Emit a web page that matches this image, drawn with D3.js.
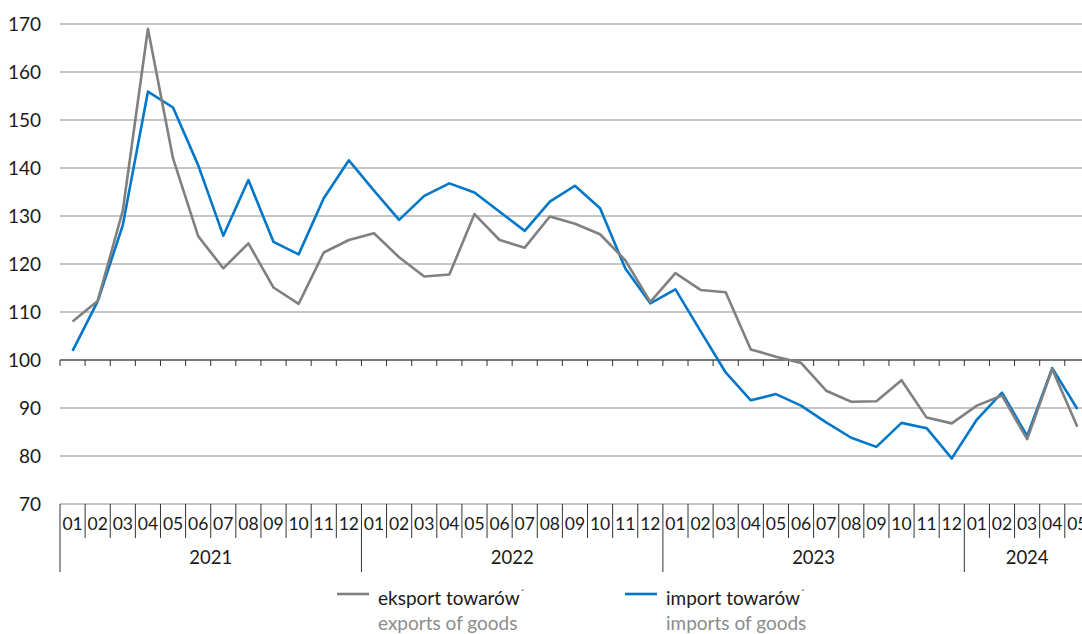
<!DOCTYPE html>
<html>
<head>
<meta charset="utf-8">
<script src="https://cdn.jsdelivr.net/npm/d3@7"></script>
<style>
  body { margin: 0; background: #fff; }
  svg { display: block; font-family: Lato, "Liberation Sans", sans-serif; }
</style>
</head>
<body>
<svg id="chart" width="1082" height="634"></svg>
<script>
// month labels and years (41 months, 2021-01 .. 2024-05)
var monthLabels = ["01","02","03","04","05","06","07","08","09","10","11","12"];
var years = ["2021", "2022", "2023", "2024"];
var monthsPerYear = [12, 12, 12, 5];
var yTicks = [70, 80, 90, 100, 110, 120, 130, 140, 150, 160, 170];

// eksport towarów / exports of goods
var exportsGoods = [
  108.0, 112.3, 131.1, 169.0, 142.0, 125.8, 119.1, 124.3, 115.1, 111.7, 122.4, 125.0,
  126.4, 121.4, 117.4, 117.8, 130.4, 125.0, 123.4, 129.9, 128.4, 126.2, 120.8, 112.1,
  118.1, 114.6, 114.1, 102.2, 100.7, 99.4, 93.6, 91.3, 91.4, 95.8, 88.0, 86.8,
  90.5, 92.6, 83.5, 98.1, 86.1
];

// import towarów / imports of goods
var importsGoods = [
  101.9, 112.2, 128.1, 155.9, 152.6, 140.6, 125.9, 137.5, 124.6, 122.0, 133.7, 141.6,
  135.3, 129.2, 134.2, 136.8, 134.9, 130.9, 126.9, 133.0, 136.3, 131.6, 119.1, 111.8,
  114.7, 106.0, 97.4, 91.6, 92.9, 90.5, 87.0, 83.8, 81.9, 86.9, 85.8, 79.5,
  87.6, 93.2, 84.2, 98.3, 89.8
];

var svg = d3.select("#chart");
var left = 60, step = 25.12;
var n = exportsGoods.length;

// build month list
var months = [];
years.forEach((y, yi) => {
  for (let m = 0; m < monthsPerYear[yi]; m++) months.push({ year: y, label: monthLabels[m] });
});

var x = d3.scaleBand()
  .domain(d3.range(n))
  .range([left, left + n * step])
  .padding(0);

var y = d3.scaleLinear()
  .domain([70, 170])
  .range([504, 24]);

var grey = "#808080", blue = "#0077c8";

// gridlines
svg.append("g")
  .selectAll("line")
  .data(yTicks.filter(d => d !== 100))
  .enter()
  .append("line")
  .attr("x1", left)
  .attr("x2", 1082)
  .attr("y1", d => y(d))
  .attr("y2", d => y(d))
  .attr("stroke", "#b3b3b3")
  .attr("stroke-width", 1.5);

// y labels
svg.append("g")
  .selectAll("text")
  .data(yTicks)
  .enter()
  .append("text")
  .attr("x", 41)
  .attr("y", d => y(d))
  .attr("dy", "0.36em")
  .attr("text-anchor", "end")
  .attr("font-size", 19)
  .attr("fill", "#1a1a1a")
  .text(d => d);

// axis at 100 with month ticks
var axis100 = svg.append("g");
axis100.append("line")
  .attr("x1", left).attr("x2", 1082)
  .attr("y1", y(100)).attr("y2", y(100))
  .attr("stroke", "#4d4d4d")
  .attr("stroke-width", 1.3);
axis100.selectAll("line.tick")
  .data(d3.range(n))
  .enter()
  .append("line")
  .attr("class", "tick")
  .attr("x1", d => x(d)).attr("x2", d => x(d))
  .attr("y1", y(100)).attr("y2", y(100) + 6)
  .attr("stroke", "#333")
  .attr("stroke-width", 1);

// bottom category axis
var bottom = svg.append("g");
bottom.selectAll("line.month")
  .data(d3.range(n))
  .enter()
  .append("line")
  .attr("x1", d => x(d)).attr("x2", d => x(d))
  .attr("y1", y(70))
  .attr("y2", (d, i) => months[i].label === "01" ? 572 : 538)
  .attr("stroke", "#333")
  .attr("stroke-width", 1);

bottom.selectAll("text.month")
  .data(months)
  .enter()
  .append("text")
  .attr("x", (d, i) => x(i) + x.bandwidth() / 2)
  .attr("y", 530)
  .attr("text-anchor", "middle")
  .attr("font-size", 17.5)
  .attr("fill", "#1a1a1a")
  .text(d => d.label);

var start = 0;
years.forEach((yr, yi) => {
  let cnt = monthsPerYear[yi];
  bottom.append("text")
    .attr("x", (x(start) + x(start + cnt - 1) + x.bandwidth()) / 2)
    .attr("y", 564)
    .attr("text-anchor", "middle")
    .attr("font-size", 18.5)
    .attr("fill", "#1a1a1a")
    .text(yr);
  start += cnt;
});

// lines
var line = d3.line()
  .x((d, i) => x(i) + x.bandwidth() / 2)
  .y(d => y(d));

svg.append("path")
  .datum(importsGoods)
  .attr("d", line)
  .attr("fill", "none")
  .attr("stroke", blue)
  .attr("stroke-width", 2.6)
  .attr("stroke-linejoin", "round");

svg.append("path")
  .datum(exportsGoods)
  .attr("d", line)
  .attr("fill", "none")
  .attr("stroke", grey)
  .attr("stroke-width", 2.6)
  .attr("stroke-linejoin", "round");

// legend
var legendItems = [
  { x: 337, color: grey, pl: "eksport towarów", en: "exports of goods" },
  { x: 625, color: blue, pl: "import towarów", en: "imports of goods" }
];
var legend = svg.append("g")
  .selectAll("g")
  .data(legendItems)
  .enter()
  .append("g")
  .attr("transform", d => "translate(" + d.x + ",0)");

legend.append("line")
  .attr("x1", 0).attr("x2", 32)
  .attr("y1", 594).attr("y2", 594)
  .attr("stroke", d => d.color)
  .attr("stroke-width", 2.6);

var pl = legend.append("text")
  .attr("x", 41)
  .attr("y", 605)
  .attr("font-size", 19)
  .attr("fill", "#1a1a1a");
pl.append("tspan").text(d => d.pl);
pl.append("tspan").attr("dy", -7).attr("font-size", 12).text("´");

legend.append("text")
  .attr("x", 41)
  .attr("y", 630)
  .attr("font-size", 19)
  .attr("fill", "#8c8c8c")
  .text(d => d.en);
</script>
</body>
</html>
